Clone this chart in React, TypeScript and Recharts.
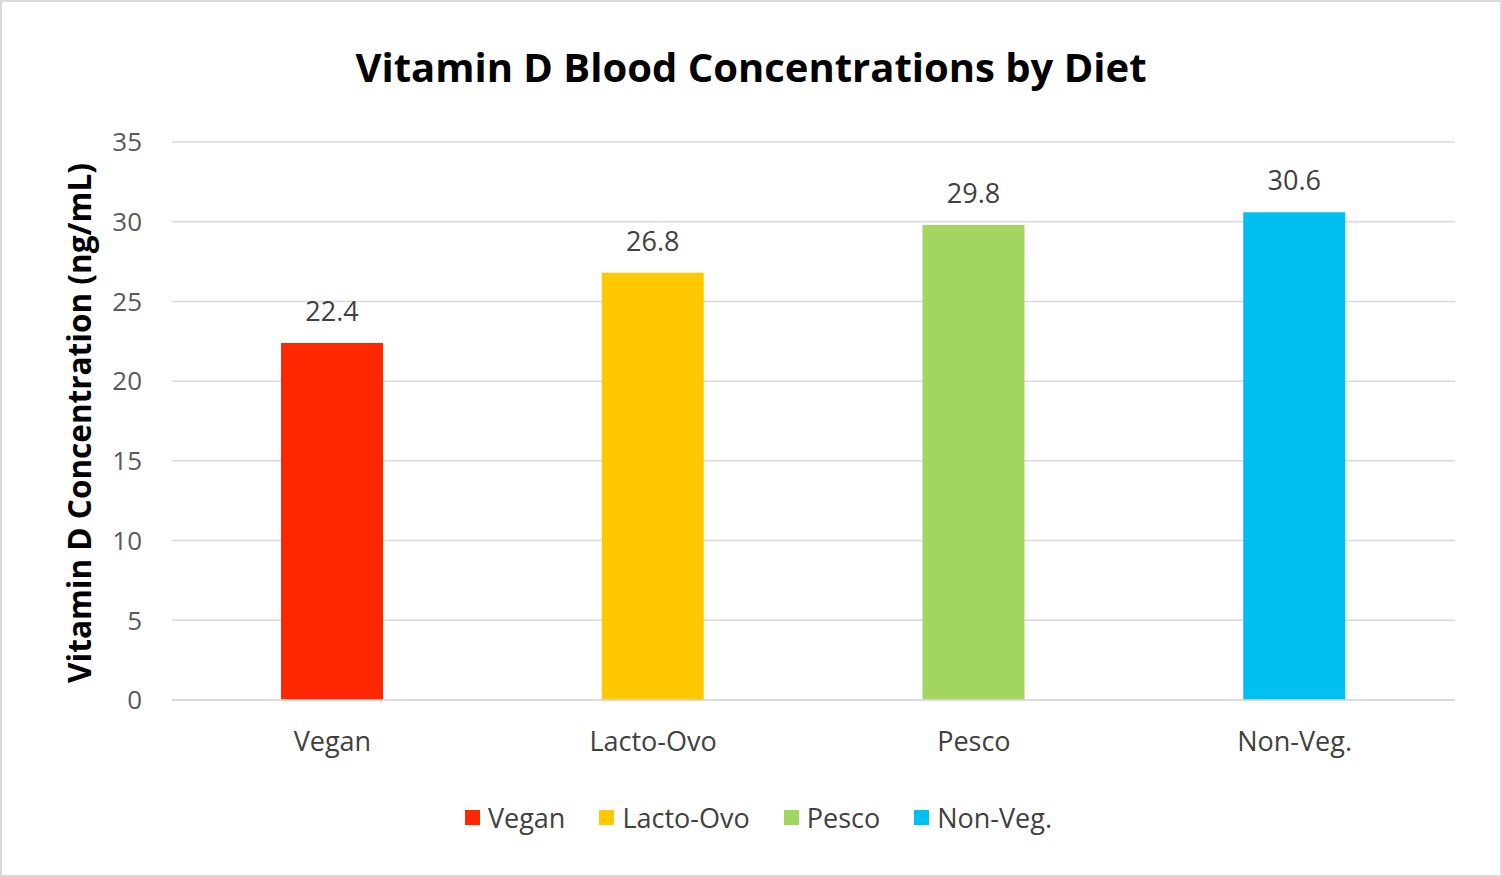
import { BarChart, Bar, XAxis, YAxis, CartesianGrid, Cell, LabelList, Legend } from "recharts";

const diets = ["Vegan", "Lacto-Ovo", "Pesco", "Non-Veg."];
const vitaminD = [22.4, 26.8, 29.8, 30.6];
const colors = ["#ff2700", "#ffc800", "#a2d660", "#00bff1"];
const yTicks = [0, 5, 10, 15, 20, 25, 30, 35];

const data = diets.map((d, i) => ({ diet: d, value: vitaminD[i] }));

const font = "'Open Sans', sans-serif";

function DietLegend() {
  return (
    <div
      style={{
        height: 40,
        paddingLeft: 60,
        display: "flex",
        justifyContent: "center",
        alignItems: "center",
        fontFamily: font,
        fontSize: 27,
        color: "#404040",
      }}
    >
      {diets.map((d, i) => (
        <div key={d} style={{ display: "flex", alignItems: "center", margin: "0 17px" }}>
          <span style={{ width: 15, height: 15, background: colors[i], marginRight: 8 }} />
          {d}
        </div>
      ))}
    </div>
  );
}

export default function App() {
  return (
    <div
      style={{
        position: "absolute",
        left: 0,
        top: 0,
        width: 1502,
        height: 877,
        background: "#fff",
        boxSizing: "border-box",
        border: "2px solid #d9d9d9",
      }}
    >
      <div
        style={{
          position: "absolute",
          top: 37,
          left: 0,
          width: 1498,
          textAlign: "center",
          fontFamily: font,
          fontWeight: 700,
          fontSize: 40,
          color: "#000",
        }}
      >
        Vitamin D Blood Concentrations by Diet
      </div>
      <div
        style={{
          position: "absolute",
          left: 76,
          top: 421,
          transform: "translate(-50%, -50%) rotate(-90deg)",
          whiteSpace: "nowrap",
          fontFamily: font,
          fontWeight: 700,
          fontSize: 31.5,
          color: "#000",
        }}
      >
        Vitamin D Concentration (ng/mL)
      </div>
      <BarChart
        width={1498}
        height={873}
        data={data}
        margin={{ top: 140, right: 45, left: 0, bottom: 38 }}
        style={{ position: "absolute", left: 0, top: 0 }}
      >
        <CartesianGrid vertical={false} stroke="#d9d9d9" strokeWidth={1.5} />
        <XAxis
          dataKey="diet"
          height={97}
          axisLine={{ stroke: "#d9d9d9", strokeWidth: 1.5 }}
          tickLine={false}
          tickSize={0}
          tickMargin={32}
          tick={{ fill: "#404040", fontSize: 27, fontFamily: font }}
        />
        <YAxis
          width={170}
          domain={[0, 35]}
          ticks={yTicks}
          axisLine={false}
          tickLine={false}
          tickSize={0}
          tickMargin={30}
          tick={{ fill: "#595959", fontSize: 26, fontFamily: font }}
        />
        <Legend verticalAlign="bottom" content={() => <DietLegend />} />
        <Bar dataKey="value" barSize={102} isAnimationActive={false}>
          {data.map((d, i) => (
            <Cell key={d.diet} fill={colors[i]} />
          ))}
          <LabelList
            dataKey="value"
            position="top"
            offset={22}
            style={{ fill: "#404040", fontSize: 27, fontFamily: font }}
          />
        </Bar>
      </BarChart>
    </div>
  );
}
